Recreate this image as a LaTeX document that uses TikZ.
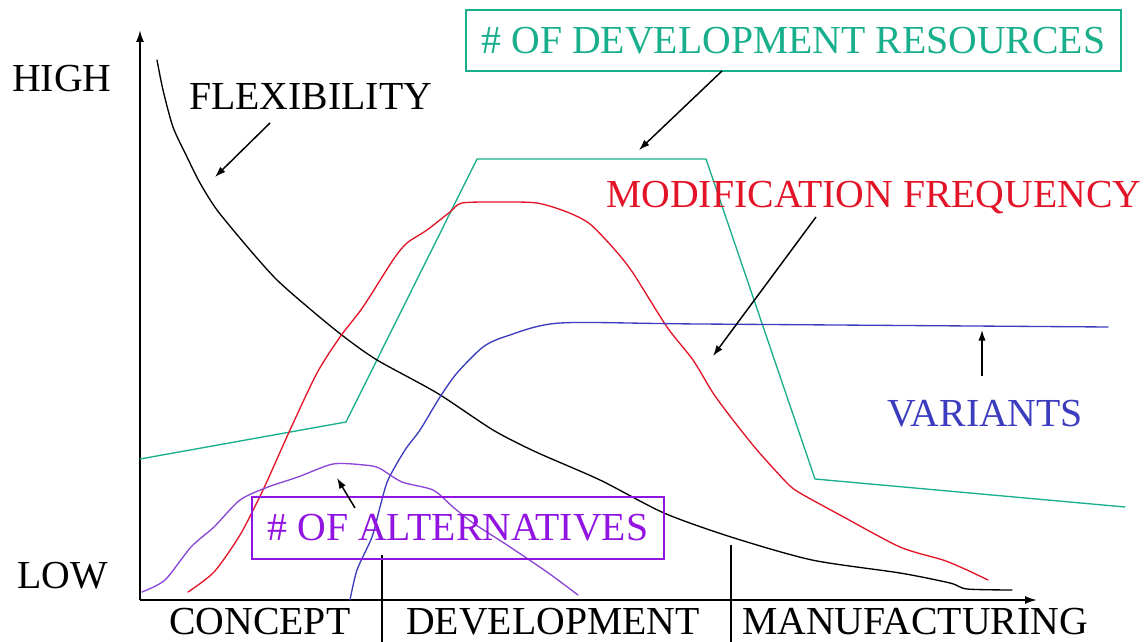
\documentclass[tikz,border=0pt]{standalone}
\usepackage{fontspec}
\setmainfont{Liberation Serif}
\usetikzlibrary{arrows.meta}
\definecolor{devgreen}{RGB}{25,175,140}
\definecolor{modred}{RGB}{228,20,40}
\definecolor{varblue}{RGB}{60,60,190}
\definecolor{alttext}{RGB}{145,20,225}
\definecolor{altcurve}{RGB}{140,70,215}
\begin{document}
\begin{tikzpicture}[x=0.75pt,y=-0.75pt,
  lbl/.style={font=\fontsize{29.8}{32}\selectfont, inner sep=0pt, anchor=base west},
  boxlbl/.style={font=\fontsize{29.8}{32}\selectfont, inner sep=0pt, line width=1.1pt, draw},
  curve/.style={line width=1pt, line join=round, line cap=round},
  axis/.style={line width=1.4pt, -{Latex[length=9pt,width=6pt]}},
  pointer/.style={line width=1.1pt, -{Latex[length=8pt,width=5.5pt]}},
  divider/.style={line width=1pt},
]
\useasboundingbox (0,0) rectangle (1147,642);
\fill[white] (0,0) rectangle (1147,642);

% axes
\coordinate (o) at (140,600);
\coordinate (ytop) at (140,30);
\coordinate (xend) at (1037,600);
\draw[axis] (o) -- (ytop);
\draw[axis] (o) -- (xend);

% phase dividers
\coordinate (d1t) at (382,555); \coordinate (d1b) at (382,642);
\coordinate (d2t) at (731,545); \coordinate (d2b) at (731,642);
\draw[divider] (d1t) -- (d1b);
\draw[divider] (d2t) -- (d2b);

% curves
\draw[curve, devgreen] (140,459) -- (346,422) -- (477,159) -- (706,159) -- (815,479) -- (1125,507);

\draw[curve, black] plot[smooth, tension=0.45] coordinates {
 (157,60) (163,90) (173,127) (187,157) (200,183) (217,210) (250,250) (277,280)
 (310,309) (343,336) (377,360) (437,393) (493,430) (536,452) (600,480)
 (664,513) (731,537) (812,560) (900,573) (950,583) (967,589) (1012,590)};

\draw[curve, modred] plot[smooth, tension=0.45] coordinates {
 (188,592) (214,572) (240,535) (263,490) (290,430) (317,373) (340,337) (363,307)
 (393,260) (407,243) (427,230) (450,212) (462,203) (500,202) (537,203) (567,212)
 (590,224) (615,250) (633,273) (667,327) (693,360) (713,393) (733,420) (757,450)
 (787,483) (800,493) (840,515) (900,547) (943,560) (967,570) (988,580)};

\draw[curve, varblue] plot[smooth, tension=0.45] coordinates {
 (350,600) (357,570) (372,537) (380,507) (388,480) (405,450) (420,430) (440,397)
 (457,373) (483,347) (507,336) (560,323) (700,324) (1108,327)};

\draw[curve, altcurve] plot[smooth, tension=0.45] coordinates {
 (142,592) (165,580) (191,547) (214,527) (240,500) (268,487) (298,477) (333,464)
 (364,465) (379,468) (402,482) (433,490) (453,507) (473,523) (507,545) (547,572)
 (578,595)};

% labels
\node[lbl] (high) at (12,92) {HIGH};
\node[lbl] (low) at (17,588) {LOW};
\node[lbl] (flex) at (189,110) {FLEXIBILITY};
\node[lbl, text=modred] (modf) at (606,207) {MODIFICATION FREQUENCY};
\node[lbl, text=varblue] (var) at (887,426) {VARIANTS};
\node[lbl] (concept) at (169,634) {CONCEPT};
\node[lbl] (devel) at (406,634) {DEVELOPMENT};
\node[lbl] (manuf) at (742,634) {MANUFACTURING};

\node[boxlbl, draw=devgreen, text=devgreen, minimum width=491pt, minimum height=45.75pt] (devres) at (793.5,40.5) {\# OF DEVELOPMENT RESOURCES};
\node[boxlbl, draw=alttext, text=alttext, minimum width=309pt, minimum height=46.5pt] (alts) at (458,528) {\# OF ALTERNATIVES};

% pointers
\coordinate (flexA) at (270,123); \coordinate (flexB) at (215,177);
\coordinate (devA) at (722,71);   \coordinate (devB) at (639,150);
\coordinate (modA) at (816,217);  \coordinate (modB) at (713,356);
\coordinate (varA) at (982,376);  \coordinate (varB) at (982,330);
\coordinate (altA) at (355,508);  \coordinate (altB) at (337,478);
\draw[pointer] (flexA) -- (flexB);
\draw[pointer] (devA) -- (devB);
\draw[pointer] (modA) -- (modB);
\draw[pointer] (varA) -- (varB);
\draw[pointer] (altA) -- (altB);
\end{tikzpicture}
\end{document}
